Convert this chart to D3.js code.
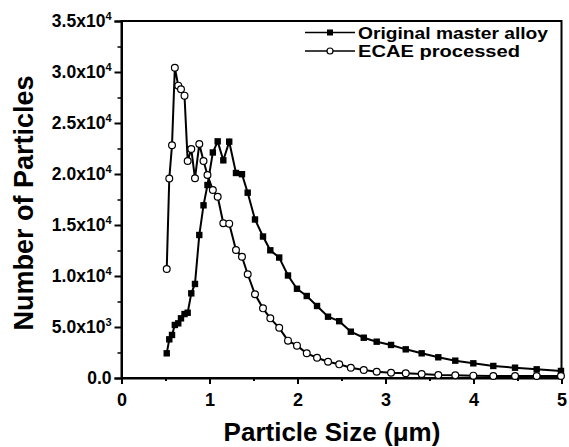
<!DOCTYPE html>
<html>
<head>
<meta charset="utf-8">
<script src="https://cdn.jsdelivr.net/npm/d3@7"></script>
<style>
  html, body { margin: 0; padding: 0; background: #fff; }
  svg { display: block; }
  text { font-family: "Liberation Sans", Arial, Helvetica, sans-serif; font-weight: bold; fill: #000; }
</style>
</head>
<body>
<svg id="chart" width="569" height="447"></svg>
<script>
// Particle size bins (µm)
const sizes = [0.514,0.543,0.574,0.606,0.645,0.676,0.716,0.752,0.793,0.835,0.884,0.932,0.977,1.038,1.093,1.157,1.224,1.301,1.369,1.434,1.517,1.608,1.691,1.792,1.892,1.994,2.105,2.222,2.347,2.474,2.606,2.753,2.900,3.063,3.230,3.411,3.600,3.793,3.998,4.225,4.472,4.718,4.994];
// Original master alloy (filled squares)
const original = [2420,3790,4220,5200,5360,5850,6270,6400,8300,9220,14020,16930,18920,22110,23200,21340,23170,20100,19980,18170,15540,13870,12520,11810,10050,8750,8040,7060,6010,5570,4540,3950,3560,3240,2810,2420,2030,1700,1440,1180,1010,850,690];
// ECAE processed (open circles)
const ecae = [10690,19560,22820,30420,28660,28300,27680,21270,22450,19580,22940,21270,19900,18430,17770,15170,15130,12550,11890,10170,8210,6830,5850,4920,3660,3170,2420,1990,1600,1340,1010,780,620,520,460,390,290,260,230,200,200,200,200];

const seriesNames = ["Original master alloy", "ECAE processed"];
const xTicks = [0,1,2,3,4,5];
const yTickMantissa = ["0.0","5.0","1.0","1.5","2.0","2.5","3.0","3.5"];
const yTickExp = ["","3","4","4","4","4","4","4"];
const yTickValues = [0,5000,10000,15000,20000,25000,30000,35000];
const xTitle = "Particle Size (\u03bcm)";
const yTitle = "Number of Particles";

const svg = d3.select("#chart");
const x = d3.scaleLinear().domain([0,5]).range([121.5, 561.5]);
const y = d3.scaleLinear().domain([0,35000]).range([378, 21]);

// Frame
svg.append("rect")
  .attr("x", x(0)).attr("y", y(35000))
  .attr("width", x(5)-x(0)).attr("height", y(0)-y(35000))
  .attr("fill","none").attr("stroke","#000").attr("stroke-width",2);

// X axis
const xAxis = d3.axisBottom(x).tickValues(xTicks).tickSize(6).tickFormat(d3.format("d"));
const gx = svg.append("g").attr("transform",`translate(0,${y(0)})`).call(xAxis);
gx.select(".domain").attr("stroke-width",2);
gx.selectAll(".tick line").attr("stroke-width",2);
gx.selectAll(".tick text").attr("font-size",18).attr("font-family","Liberation Sans, Arial, sans-serif").attr("font-weight","bold").attr("dy","1.05em");
const xMinor = d3.axisBottom(x).tickValues([0.5,1.5,2.5,3.5,4.5]).tickSize(3).tickFormat("");
const gxm = svg.append("g").attr("transform",`translate(0,${y(0)})`).call(xMinor);
gxm.select(".domain").remove();
gxm.selectAll(".tick line").attr("stroke-width",2);

// Y axis
const yAxis = d3.axisLeft(y).tickValues(yTickValues).tickSize(7).tickFormat("");
const gy = svg.append("g").attr("transform",`translate(${x(0)},0)`).call(yAxis);
gy.select(".domain").attr("stroke-width",2);
gy.selectAll(".tick line").attr("stroke-width",2);
const yMinor = d3.axisLeft(y).tickValues([2500,7500,12500,17500,22500,27500,32500]).tickSize(4).tickFormat("");
const gym = svg.append("g").attr("transform",`translate(${x(0)},0)`).call(yMinor);
gym.select(".domain").remove();
gym.selectAll(".tick line").attr("stroke-width",1.5);

// Y tick labels with superscript exponents
yTickValues.forEach((v,i) => {
  const t = svg.append("text")
    .attr("x", x(0)-10).attr("y", y(v)+6)
    .attr("text-anchor","end").attr("font-size",17.5);
  if (yTickExp[i] === "") {
    t.text(yTickMantissa[i]);
  } else {
    t.append("tspan").text(yTickMantissa[i] + "x10");
    t.append("tspan").attr("dy",-7.5).attr("font-size",11).text(yTickExp[i]);
  }
});

// Axis titles
svg.append("text").attr("x", 332).attr("y", 441).attr("text-anchor","middle")
  .attr("font-size",26).text(xTitle);
svg.append("text").attr("transform","translate(33,203) rotate(-90)")
  .attr("text-anchor","middle").attr("font-size",27).text(yTitle);

// Lines
const line = d3.line().x(d => x(d[0])).y(d => y(d[1]));
const origData = sizes.map((s,i) => [s, original[i]]);
const ecaeData = sizes.map((s,i) => [s, ecae[i]]);

svg.append("path").datum(origData).attr("d", line)
  .attr("fill","none").attr("stroke","#000").attr("stroke-width",2);
svg.append("g").selectAll("rect").data(origData).join("rect")
  .attr("x", d => x(d[0])-3.2).attr("y", d => y(d[1])-3.2)
  .attr("width",6.4).attr("height",6.4).attr("fill","#000");

svg.append("path").datum(ecaeData).attr("d", line)
  .attr("fill","none").attr("stroke","#000").attr("stroke-width",2);
svg.append("g").selectAll("circle").data(ecaeData).join("circle")
  .attr("cx", d => x(d[0])).attr("cy", d => y(d[1])).attr("r",3.4)
  .attr("fill","#fff").attr("stroke","#000").attr("stroke-width",1.2);

// Legend
const legX1 = 305, legX2 = 355, legTx = 358;
const legY = [32.5, 51];
const legW = [190, 162];
seriesNames.forEach((name,i) => {
  svg.append("line").attr("x1",legX1).attr("x2",legX2).attr("y1",legY[i]).attr("y2",legY[i])
    .attr("stroke","#000").attr("stroke-width",1.6);
  if (i === 0) {
    svg.append("rect").attr("x",(legX1+legX2)/2-3).attr("y",legY[i]-3).attr("width",6).attr("height",6).attr("fill","#000");
  } else {
    svg.append("circle").attr("cx",(legX1+legX2)/2).attr("cy",legY[i]).attr("r",3)
      .attr("fill","#fff").attr("stroke","#000").attr("stroke-width",1.2);
  }
  svg.append("text").attr("x",legTx).attr("y",legY[i]+6).attr("font-size",16)
    .attr("textLength",legW[i]).attr("lengthAdjust","spacingAndGlyphs").text(name);
});
</script>
</body>
</html>
